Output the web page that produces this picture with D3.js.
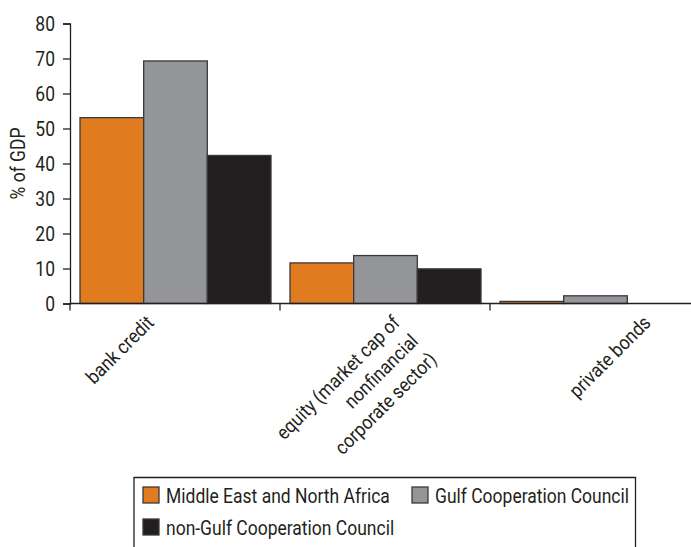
<!DOCTYPE html>
<html>
<head>
<meta charset="utf-8">
<script src="https://cdn.jsdelivr.net/npm/d3@7"></script>
<style>
	body { margin: 0; background: #fff; }
	svg text { font-family: Roboto, "Liberation Sans", sans-serif; fill: #231f20; font-size: 19.5px; }
</style>
</head>
<body>
<svg id="chart"></svg>
<script>
const WIDTH = 691;
const HEIGHT = 547;

// data
const categories = ["bank credit", "equity (market cap of|nonfinancial|corporate sector)", "private bonds"];
const seriesNames = ["Middle East and North Africa", "Gulf Cooperation Council", "non-Gulf Cooperation Council"];
const menaValues = [53.1, 11.6, 0.6];
const gccValues = [69.3, 13.7, 2.2];
const nonGccValues = [42.3, 9.9, 0];
const yTicks = [0, 10, 20, 30, 40, 50, 60, 70, 80];

const colors = ["#e07b20", "#939598", "#231f20"];
const allValues = [menaValues, gccValues, nonGccValues];

// label nudges (the source places them by hand)
const labelDx = [-20, 16, 57];

const svg = d3.select("#chart").attr("width", WIDTH).attr("height", HEIGHT);

// the source uses a condensed face; squeeze Roboto to the same width
const probe = svg.append("text").text(seriesNames[0]);
const sx = 224 / probe.node().getComputedTextLength();
probe.remove();

const x = d3.scaleBand().domain(categories).range([70, 700]);
const xInner = d3.scaleBand().domain(seriesNames).range([10, 201]);
const y = d3.scaleLinear().domain([0, 80]).range([303.5, 23.5]);

// bars
categories.forEach((cat, i) => {
	seriesNames.forEach((s, j) => {
		const v = allValues[j][i];
		if (v <= 0) return;
		svg.append("rect")
			.attr("x", x(cat) + xInner(s))
			.attr("y", y(v))
			.attr("width", xInner.bandwidth())
			.attr("height", y(0) - y(v))
			.attr("fill", colors[j])
			.attr("stroke", "#3a3a3c")
			.attr("stroke-width", 1.3);
	});
});

// y axis
const yAxis = svg.append("g")
	.attr("transform", "translate(70,0)")
	.call(d3.axisLeft(y).tickValues(yTicks).tickSize(7).tickPadding(7));
yAxis.select(".domain").attr("stroke", "#231f20").attr("stroke-width", 1.3);
yAxis.selectAll(".tick line").attr("stroke", "#231f20").attr("stroke-width", 1.3);
yAxis.selectAll(".tick text")
	.attr("x", null)
	.attr("dy", "0.36em")
	.attr("transform", `translate(-15,0) scale(${sx},1)`)
	.style("font-size", null);

// x axis, ticks at band edges
const xAxis = svg.append("g").attr("transform", `translate(0,${y(0)})`);
xAxis.append("line")
	.attr("x1", 70).attr("x2", WIDTH)
	.attr("stroke", "#231f20").attr("stroke-width", 1.3);
categories.forEach((cat) => {
	xAxis.append("line")
		.attr("x1", x(cat)).attr("x2", x(cat))
		.attr("y1", 0).attr("y2", 7)
		.attr("stroke", "#231f20").attr("stroke-width", 1.3);
});

categories.forEach((cat, i) => {
	const lines = cat.split("|");
	const t = svg.append("text")
		.attr("transform", `translate(${x(cat) + x.bandwidth() / 2 + labelDx[i]},324) rotate(-45) scale(${sx},1)`)
		.attr("text-anchor", "end");
	lines.forEach((ln, k) => {
		t.append("tspan").attr("x", 0).attr("dy", k === 0 ? 0 : 26).text(ln);
	});
});

svg.append("text")
	.attr("transform", `translate(25,${(y(0) + y(80)) / 2}) rotate(-90) scale(${sx},1)`)
	.attr("text-anchor", "middle")
	.text("% of GDP");

// legend
const legend = svg.append("g");
legend.append("path")
	.attr("d", `M134,${HEIGHT + 2}V477.5H635.5V${HEIGHT + 2}`)
	.attr("fill", "none")
	.attr("stroke", "#231f20")
	.attr("stroke-width", 1.3);

const legendPos = [[143, 487], [412, 487], [143, 519]];
seriesNames.forEach((s, j) => {
	const g = legend.append("g").attr("transform", `translate(${legendPos[j][0]},${legendPos[j][1]})`);
	g.append("rect")
		.attr("width", 16).attr("height", 16)
		.attr("fill", colors[j])
		.attr("stroke", "#3a3a3c")
		.attr("stroke-width", 1.3);
	g.append("text")
		.attr("transform", `translate(23,15.5) scale(${sx},1)`)
		.text(s);
});
</script>
</body>
</html>
